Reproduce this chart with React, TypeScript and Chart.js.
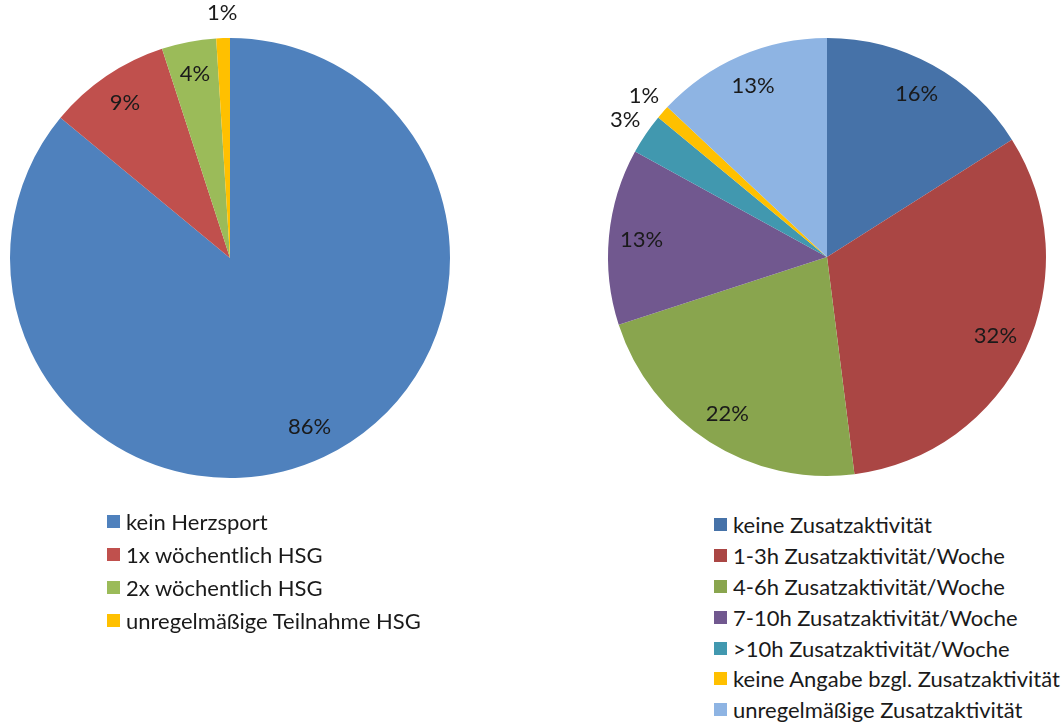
import React, { useEffect, useRef } from "react";
import { Chart, registerables } from "chart.js";

Chart.register(...registerables);

// Herzsportgruppe participation
const hsgLabels = [
  "kein Herzsport",
  "1x wöchentlich HSG",
  "2x wöchentlich HSG",
  "unregelmäßige Teilnahme HSG",
];
const hsgValues = [86, 9, 4, 1];
const hsgColors = ["#4F81BD", "#C0504D", "#9BBB59", "#FFC000"];

// Additional activity per week
const zusLabels = [
  "keine Zusatzaktivität",
  "1-3h Zusatzaktivität/Woche",
  "4-6h Zusatzaktivität/Woche",
  "7-10h Zusatzaktivität/Woche",
  ">10h Zusatzaktivität/Woche",
  "keine Angabe bzgl. Zusatzaktivität",
  "unregelmäßige Zusatzaktivität",
];
const zusValues = [16, 32, 22, 13, 3, 1, 13];
const zusColors = ["#4672A8", "#AA4644", "#89A54E", "#71588F", "#4198AF", "#FFC000", "#8EB4E3"];

const FONT = "Lato, 'Open Sans', sans-serif";

// Percentage labels: inside the slice for larger values, just outside for small ones
const percentLabels = {
  id: "percentLabels",
  afterDatasetsDraw(chart: any) {
    const ctx = chart.ctx;
    const meta = chart.getDatasetMeta(0);
    const data = chart.data.datasets[0].data as number[];
    ctx.save();
    ctx.font = `22px ${FONT}`;
    ctx.fillStyle = "#1a1a1a";
    ctx.textAlign = "center";
    ctx.textBaseline = "middle";
    meta.data.forEach((arc: any, i: number) => {
      const { x, y, startAngle, endAngle, outerRadius } = arc.getProps(
        ["x", "y", "startAngle", "endAngle", "outerRadius"],
        true
      );
      const mid = (startAngle + endAngle) / 2;
      const v = data[i];
      const r = v >= 4 ? outerRadius * 0.85 : outerRadius + 25;
      ctx.fillText(`${v}%`, x + Math.cos(mid) * r, y + Math.sin(mid) * r);
    });
    ctx.restore();
  },
};

function PieChart(props: {
  values: number[];
  labels: string[];
  colors: string[];
  padding: { top: number; bottom: number; left: number; right: number };
  style: React.CSSProperties;
}) {
  const ref = useRef<HTMLCanvasElement | null>(null);
  useEffect(() => {
    if (!ref.current) return;
    const chart = new Chart(ref.current, {
      type: "pie",
      data: {
        labels: props.labels,
        datasets: [
          {
            data: props.values,
            backgroundColor: props.colors,
            borderWidth: 0,
          },
        ],
      },
      options: {
        animation: false,
        responsive: false,
        maintainAspectRatio: false,
        layout: { padding: props.padding },
        plugins: {
          legend: { display: false },
          tooltip: { enabled: false },
        },
      },
      plugins: [percentLabels],
    });
    return () => chart.destroy();
  }, []);
  const w = props.style.width as number;
  const h = props.style.height as number;
  return (
    <canvas
      ref={ref}
      width={w}
      height={h}
      style={{ position: "absolute", ...props.style }}
    />
  );
}

function Legend(props: {
  labels: string[];
  colors: string[];
  left: number;
  top: number;
  rowHeight: number;
}) {
  return (
    <div style={{ position: "absolute", left: props.left, top: props.top }}>
      {props.labels.map((l, i) => (
        <div
          key={l}
          style={{
            display: "flex",
            alignItems: "center",
            height: props.rowHeight,
            fontFamily: FONT,
            fontSize: 22,
            color: "#1a1a1a",
            whiteSpace: "nowrap",
          }}
        >
          <span
            style={{
              display: "inline-block",
              width: 13,
              height: 13,
              background: props.colors[i],
              marginRight: 6,
              flexShrink: 0,
            }}
          />
          <span>{l}</span>
        </div>
      ))}
    </div>
  );
}

export default function App() {
  return (
    <div
      style={{
        position: "fixed",
        left: 0,
        top: 0,
        width: 1063,
        height: 725,
        background: "#ffffff",
        overflow: "hidden",
      }}
    >
      <PieChart
        values={hsgValues}
        labels={hsgLabels}
        colors={hsgColors}
        padding={{ top: 38, bottom: 38, left: 10, right: 10 }}
        style={{ left: 0, top: 0, width: 460, height: 516 }}
      />
      <PieChart
        values={zusValues}
        labels={zusLabels}
        colors={zusColors}
        padding={{ top: 38, bottom: 24, left: 18, right: 17 }}
        style={{ left: 590, top: 0, width: 473, height: 500 }}
      />
      <Legend labels={hsgLabels} colors={hsgColors} left={107} top={505} rowHeight={33} />
      <Legend labels={zusLabels} colors={zusColors} left={714} top={509} rowHeight={30.9} />
    </div>
  );
}
